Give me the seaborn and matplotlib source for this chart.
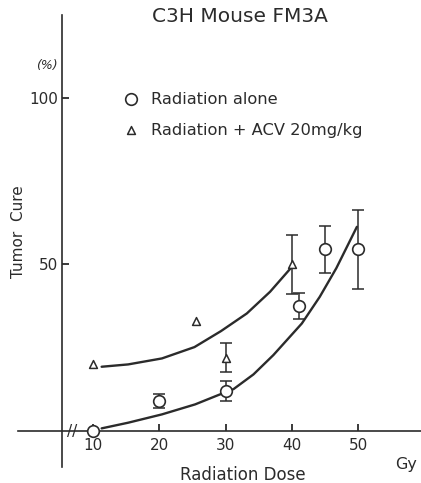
import matplotlib
matplotlib.use('Agg')
import matplotlib.pyplot as plt
import seaborn as sns

# Radiation alone (circles)
alone_dose = [10, 20, 30, 41, 45, 50]
alone_cure = [0, 9, 12, 37.5, 54.5, 54.5]
alone_err = [0, 2, 3, 4, 7, 12]

# Radiation + ACV 20mg/kg (triangles)
acv_dose = [10, 25.5, 30, 40]
acv_cure = [20, 33, 22, 50]
acv_err = [0, 0, 4.4, 8.8]

# fitted curves
fit_acv_dose = [11.3, 15.3, 20.4, 25.3, 29.3, 33.2, 36.7, 40]
fit_acv_cure = [19.3, 20.0, 21.8, 25.2, 30.0, 35.3, 41.8, 49.3]
fit_alone_dose = [11.3, 15.3, 20.4, 25.4, 28.9, 31.2, 34.2, 37.2, 41.5, 44.2, 46.7, 49.8]
fit_alone_cure = [0.8, 2.5, 5.0, 8.0, 10.8, 12.6, 17.0, 22.8, 32.3, 40.3, 48.9, 61.3]

x_ticks = [10, 20, 30, 40, 50]
y_ticks = [50, 100]

ink = '#2b2b2b'
W, H = 421, 483

sns.set_style('white', {'xtick.bottom': True, 'ytick.left': True})
plt.rcParams['font.family'] = ['DejaVu Sans']
plt.rcParams['text.color'] = ink

fig = plt.figure(figsize=(W / 100, H / 100), dpi=100)
ax = fig.add_axes([0, 0, 1, 1])
ax.set_facecolor('none')
ax.set_xlim(-4.03, 59.47)
ax.set_ylim(-15.6, 129.4)

# axes drawn as crossing lines
for s in ['top', 'right']:
    ax.spines[s].set_visible(False)
ax.spines['left'].set_position(('data', 5.3))
ax.spines['left'].set_bounds(-10.8, 124.9)
ax.spines['bottom'].set_position(('data', 0))
ax.spines['bottom'].set_bounds(-1.3, 59.47)
for s in ['left', 'bottom']:
    ax.spines[s].set_color(ink)
    ax.spines[s].set_linewidth(1.2)

ax.set_xticks(x_ticks)
ax.set_yticks(y_ticks)
ax.tick_params(axis='both', which='major', direction='in', length=5, width=1.3,
               color=ink, labelcolor=ink, labelsize=11)
ax.tick_params(axis='x', pad=5)
ax.tick_params(axis='y', pad=3)

# fitted curves
sns.lineplot(x=fit_acv_dose, y=fit_acv_cure, sort=False, color=ink, lw=1.7, ax=ax)
sns.lineplot(x=fit_alone_dose, y=fit_alone_cure, sort=False, color=ink, lw=1.7, ax=ax)

# error bars (only where present)
for d, c, e in zip(alone_dose + acv_dose, alone_cure + acv_cure, alone_err + acv_err):
    if e > 0:
        ax.errorbar(d, c, yerr=e, fmt='none', ecolor=ink, elinewidth=1.1,
                    capsize=4, capthick=1.1, zorder=3)

sns.scatterplot(x=alone_dose, y=alone_cure, marker='o', s=70, facecolor='white',
                edgecolor=ink, linewidth=1.2, zorder=4, ax=ax, label='Radiation alone')
sns.scatterplot(x=acv_dose, y=acv_cure, marker='^', s=32, facecolor='white',
                edgecolor=ink, linewidth=1.1, zorder=4, ax=ax, label='Radiation + ACV 20mg/kg')

leg = ax.legend(loc='upper left', bbox_to_anchor=(112 / W, 1 - 85 / H),
                bbox_transform=fig.transFigure, frameon=False, fontsize=11.7,
                handlelength=1.5, handletextpad=0.5, labelspacing=1.0,
                borderaxespad=0)

# axis break mark
ax.text(6.9, 0, '//', ha='center', va='center', fontsize=11, color=ink)

fig.text(240 / W, 1 - 17 / H, 'C3H Mouse FM3A', ha='center', va='center', fontsize=14.5)
fig.text(47 / W, 1 - 65 / H, '(%)', ha='center', va='center', fontsize=9, style='italic')
fig.text(19 / W, 1 - 232 / H, 'Tumor  Cure', ha='center', va='center', fontsize=11, rotation=90)
fig.text(243 / W, 1 - 475 / H, 'Radiation Dose', ha='center', va='center', fontsize=12)
fig.text(406 / W, 1 - 464 / H, 'Gy', ha='center', va='center', fontsize=11.5)

fig.savefig('out.png', dpi=100)
